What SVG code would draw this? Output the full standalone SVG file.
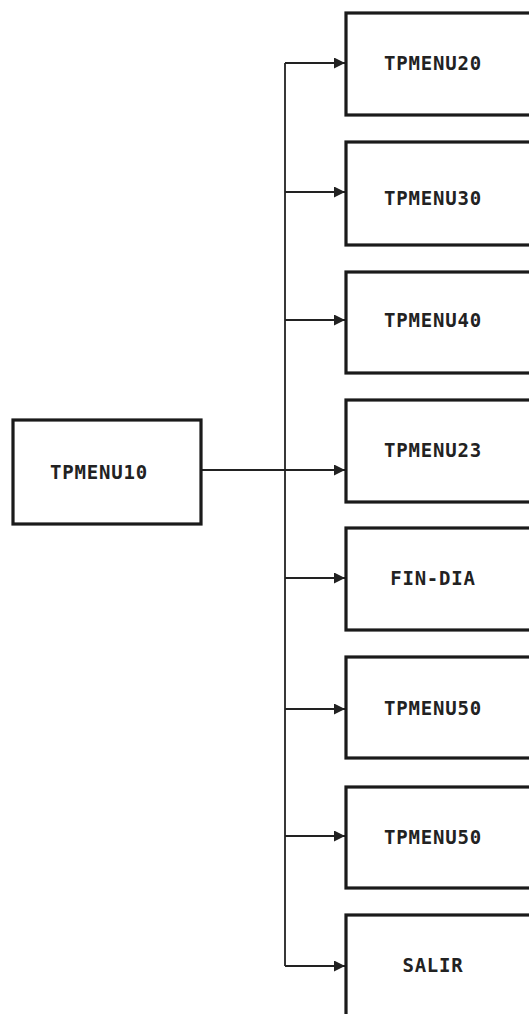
<svg xmlns="http://www.w3.org/2000/svg" width="529" height="1014" viewBox="0 0 529 1014">
<style>
.box{fill:#fff;stroke:#1a1a1a;stroke-width:3.2}
.lbl{font-family:"DejaVu Sans Mono","Liberation Mono",monospace;font-weight:bold;font-size:19px;letter-spacing:0.8px;fill:#222;text-anchor:middle}
.ln{fill:none;stroke:#222;stroke-width:1.8}
</style>
<defs>
<marker id="ah" viewBox="0 0 10 10" refX="10" refY="5" markerWidth="11" markerHeight="11" markerUnits="userSpaceOnUse" orient="auto">
<path d="M0,0 L10,5 L0,10 z" fill="#222"/>
</marker>
</defs>
<rect width="529" height="1014" fill="#fff"/>
<g id="connectors">
<path class="ln" d="M201,470 H345" marker-end="url(#ah)"/>
<path class="ln" d="M285,63 V966"/>
<path class="ln" d="M285,63 H345" marker-end="url(#ah)"/>
<path class="ln" d="M285,192 H345" marker-end="url(#ah)"/>
<path class="ln" d="M285,320 H345" marker-end="url(#ah)"/>
<path class="ln" d="M285,578 H345" marker-end="url(#ah)"/>
<path class="ln" d="M285,709 H345" marker-end="url(#ah)"/>
<path class="ln" d="M285,836 H345" marker-end="url(#ah)"/>
<path class="ln" d="M285,966 H345" marker-end="url(#ah)"/>
</g>
<g id="n_tpmenu10"><rect class="box" x="13" y="420" width="188" height="104"/><text class="lbl" x="99" y="479">TPMENU10</text></g>
<g id="n_tpmenu20"><rect class="box" x="346" y="13" width="190" height="102"/><text class="lbl" x="433" y="70">TPMENU20</text></g>
<g id="n_tpmenu30"><rect class="box" x="346" y="142" width="190" height="103"/><text class="lbl" x="433" y="205">TPMENU30</text></g>
<g id="n_tpmenu40"><rect class="box" x="346" y="272" width="190" height="101"/><text class="lbl" x="433" y="327">TPMENU40</text></g>
<g id="n_tpmenu23"><rect class="box" x="346" y="400" width="190" height="102"/><text class="lbl" x="433" y="457">TPMENU23</text></g>
<g id="n_findia"><rect class="box" x="346" y="528" width="190" height="102"/><text class="lbl" x="433" y="585">FIN-DIA</text></g>
<g id="n_tpmenu50a"><rect class="box" x="346" y="657" width="190" height="101"/><text class="lbl" x="433" y="715">TPMENU50</text></g>
<g id="n_tpmenu50b"><rect class="box" x="346" y="787" width="190" height="101"/><text class="lbl" x="433" y="844">TPMENU50</text></g>
<g id="n_salir"><rect class="box" x="346" y="915" width="190" height="110"/><text class="lbl" x="433" y="972">SALIR</text></g>
</svg>
